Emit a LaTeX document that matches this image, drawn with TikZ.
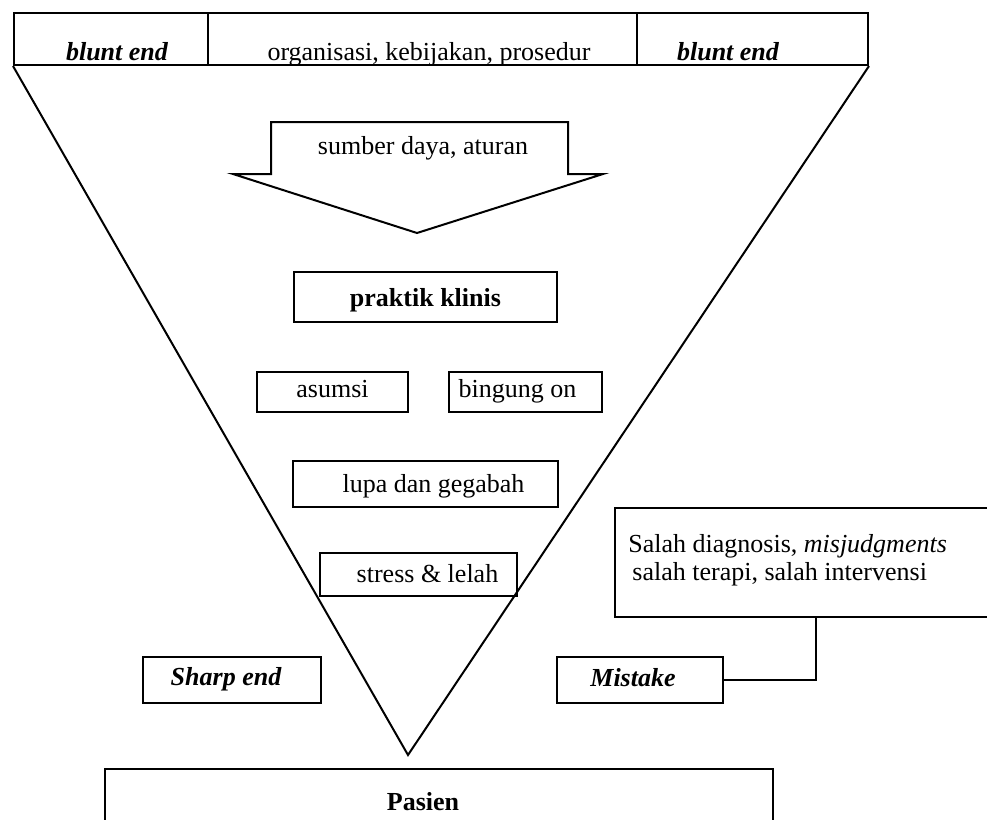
\documentclass[tikz,border=0pt]{standalone}
\usepackage{fontspec}
\setmainfont{Liberation Serif}
\begin{document}
\begin{tikzpicture}[x=0.5pt,y=-0.5pt,
  lw/.style={line width=1pt},
  box/.style={draw,lw,rectangle,inner sep=0pt,align=center,text height=9.5pt,text depth=2.5pt,font=\fontsize{13}{15}\selectfont},
  txt/.style={inner sep=0pt,font=\fontsize{13}{15}\selectfont},
  bi/.style={font=\fontsize{13}{15}\selectfont\bfseries\itshape}]
\clip (0,0) rectangle (987,820);
\fill[white] (0,0) rectangle (987,820);
% top bar
\node[box,minimum width=427pt,minimum height=26pt] (bar) at (441,39) {};
\coordinate (d1t) at (208,13); \coordinate (d1b) at (208,65);
\coordinate (d2t) at (637,13); \coordinate (d2b) at (637,65);
\draw[lw] (d1t) -- (d1b);
\draw[lw] (d2t) -- (d2b);
\node[txt,bi,anchor=base] (blunt1) at (117,60) {blunt end};
\node[txt,anchor=base] (org) at (429,60) {organisasi, kebijakan, prosedur};
\node[txt,bi,anchor=base] (blunt2) at (728,60) {blunt end};
% funnel
\coordinate (apex) at (408,755);
\draw[lw] (bar.south west) -- (apex) -- (bar.south east);
% block arrow
\draw[lw,fill=white] (271,174) -- (271,122) -- (568,122) -- (568,174) -- (603,174) -- (417,233) -- (233,174) -- cycle;
\node[txt,anchor=base] (sumber) at (423,154) {sumber daya, aturan};
% inner boxes
\node[box,font=\fontsize{13}{15}\selectfont\bfseries,text depth=0.5pt,minimum width=131.5pt,minimum height=25pt] (praktik) at (425.5,297) {praktik klinis};
\node[box,text depth=4pt,minimum width=75.5pt,minimum height=20pt] (asumsi) at (332.5,392) {asumsi};
\node[box,text depth=4pt,minimum width=76.5pt,minimum height=20pt] (bingung) at (525.5,392) {\hspace*{-8pt}bingung on};
\node[box,text depth=1.5pt,minimum width=132.5pt,minimum height=23pt] (lupa) at (425.5,484) {\hspace*{8pt}lupa dan gegabah};
\node[box,text depth=1.5pt,minimum width=98.5pt,minimum height=21.5pt] (stress) at (418.5,574.5) {\hspace*{9pt}stress \& lelah};
% side boxes
\node[box,bi,text depth=4pt,minimum width=89pt,minimum height=23pt] (sharp) at (232,680) {\hspace*{-6pt}Sharp end};
\node[box,bi,text depth=3pt,minimum width=83pt,minimum height=23pt] (mistake) at (640,680) {\hspace*{-7pt}Mistake};
\node[box,minimum width=192.5pt,minimum height=54.5pt] (salah) at (807.5,562.5) {};
\node[txt,anchor=base west] (salah1) at (628,552) {Salah diagnosis, \textit{misjudgments}};
\node[txt,anchor=base west] (salah2) at (632,580) {salah terapi, salah intervensi};
\coordinate (c1) at (816,617);
\draw[lw] (c1) |- (mistake.east);
% patient
\node[box,font=\fontsize{13}{15}\selectfont\bfseries,text depth=0.5pt,minimum width=334pt,minimum height=32pt] (pasien) at (439,801) {\hspace*{-16pt}Pasien};
\end{tikzpicture}
\end{document}
